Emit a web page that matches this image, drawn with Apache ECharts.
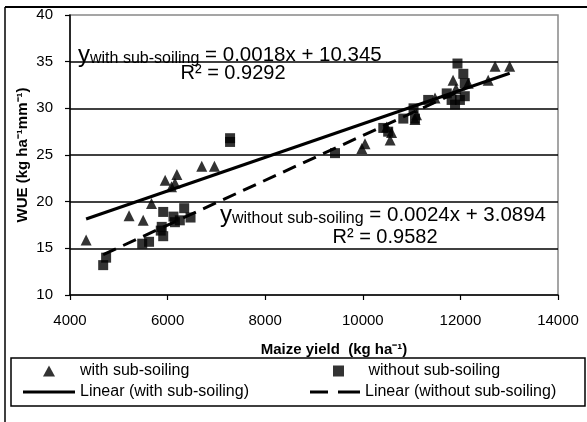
<!DOCTYPE html>
<html><head><meta charset="utf-8">
<script src="https://cdn.jsdelivr.net/npm/echarts@6/dist/echarts.min.js"></script>
<style>html,body{margin:0;padding:0;background:#fff}#c{width:587px;height:422px}</style>
</head><body><div id="c"></div>
<script>
// Data (x = maize yield kg/ha, y = WUE)
const withX = [4330,5210,5500,5670,5950,6190,6080,6150,6700,6960,9980,10045,10490,10560,10590,11070,11100,11480,11850,11910,12160,12570,12710,13010];
const withY = [15.9,18.5,18.0,19.8,22.3,22.9,21.6,22.0,23.8,23.8,25.7,26.2,28.0,26.6,27.4,28.8,29.3,31.1,33.0,32.1,32.7,33.0,34.5,34.5];
const withoutX = [4680,4740,5480,5620,5860,5910,5880,5910,6120,6150,6250,6340,6470,7280,7280,9430,10420,10520,10830,11070,11040,11340,11720,11820,11890,11990,12090,12090,12060,11940];
const withoutY = [13.2,14.0,15.5,15.7,16.9,16.3,17.3,18.9,18.4,17.8,18.0,19.3,18.3,26.8,26.4,25.2,27.9,27.5,28.9,28.9,30.0,30.9,31.6,30.9,30.4,30.9,31.3,32.7,33.7,34.8];
// Trend line coefficients [slope, intercept, R2]
const fitWith = [0.0018, 10.345, 0.9292];
const fitWithout = [0.0024, 3.0894, 0.9582];
const xTicks = [4000, 14000, 2000];
const yTicks = [10, 40, 5];

const pts = (xs, ys) => xs.map((x, i) => [x, ys[i]]);
const trend = (xs, f) => {
  const a = Math.min(...xs), b = Math.max(...xs);
  return [[a, f[0]*a + f[1]], [b, f[0]*b + f[1]]];
};
const FONT = 'Liberation Sans, Arial, sans-serif';
const chart = echarts.init(document.getElementById('c'), null, {renderer: 'canvas'});
const legendBase = {orient: 'horizontal', padding: 0, itemGap: 0, symbolKeepAspect: true,
  textStyle: {fontFamily: FONT, fontSize: 16, color: '#000'}, selectedMode: false};
const triIcon = 'path://M0,11L6,0L12,11Z';
const sqIcon = 'path://M0,0H11V11H0Z';
const solidIcon = 'path://M0,0H52V3H0Z';
const dashIcon = 'path://M0,0H18V3H0Z M28,0H50V3H28Z';
chart.setOption({
  animation: false,
  backgroundColor: '#fff',
  grid: {left: 70, top: 15, width: 488, height: 280, show: true, borderColor: '#888', borderWidth: 1.5, backgroundColor: 'transparent'},
  xAxis: {type: 'value', min: xTicks[0], max: xTicks[1], interval: xTicks[2],
    axisLine: {show: true, onZero: false, lineStyle: {color: '#000', width: 1.5}},
    axisTick: {show: true, inside: false, length: 5, lineStyle: {color: '#000', width: 1.2}},
    axisLabel: {margin: 18, fontFamily: FONT, fontSize: 15, color: '#000', formatter: v => String(v)},
    splitLine: {show: false},
    name: 'Maize yield  (kg ha\u207B\u00B9)', nameLocation: 'middle', nameGap: 47,
    nameTextStyle: {fontFamily: FONT, fontSize: 15, fontWeight: 'bold', color: '#000', padding: [0,0,0,40]}
  },
  yAxis: {type: 'value', min: yTicks[0], max: yTicks[1], interval: yTicks[2],
    axisLine: {show: true, onZero: false, lineStyle: {color: '#000', width: 1.5}},
    axisTick: {show: true, inside: false, length: 5, lineStyle: {color: '#000', width: 1.2}},
    axisLabel: {margin: 17, fontFamily: FONT, fontSize: 15, color: '#000'},
    splitLine: {show: true, showMinLine: false, showMaxLine: false, lineStyle: {color: '#000', width: 1.5}},
    name: 'WUE (kg ha\u207B\u00B9mm\u207B\u00B9)', nameLocation: 'middle', nameGap: 40, nameMoveOverlap: false,
    nameTextStyle: {fontFamily: FONT, fontSize: 15, fontWeight: 'bold', color: '#000'}
  },
  legend: [
    Object.assign({}, legendBase, {data: [{name: 'with sub-soiling', icon: triIcon}], left: 43, top: 363, itemWidth: 52, itemHeight: 11}),
    Object.assign({}, legendBase, {data: [{name: 'without sub-soiling', icon: sqIcon}], left: 333, top: 363, itemWidth: 50, itemHeight: 11}),
    Object.assign({}, legendBase, {data: [{name: 'Linear (with sub-soiling)', icon: solidIcon}], left: 23, top: 384, itemWidth: 52, itemHeight: 14}),
    Object.assign({}, legendBase, {data: [{name: 'Linear (without sub-soiling)', icon: dashIcon}], left: 310, top: 384, itemWidth: 50, itemHeight: 14})
  ],
  graphic: [
    {type: 'line', shape: {x1: 5, y1: 7, x2: 587, y2: 7}, style: {stroke: '#000', lineWidth: 2}},
    {type: 'line', shape: {x1: 5, y1: 7, x2: 5, y2: 422}, style: {stroke: '#000', lineWidth: 1.5}},
    {type: 'rect', shape: {x: 11, y: 358, width: 574, height: 48}, style: {fill: 'none', stroke: '#000', lineWidth: 1.5}},
    {type: 'text', left: 78, top: 43, style: {
      text: '{y|y}{s|with sub-soiling}{e| = ' + fitWith[0] + 'x + ' + fitWith[1] + '}',
      rich: {y: {fontFamily: FONT, fontSize: 24, fill: '#000'}, s: {fontFamily: FONT, fontSize: 16, fill: '#000', verticalAlign: 'bottom'}, e: {fontFamily: FONT, fontSize: 20.5, fill: '#000'}}}},
    {type: 'text', x: 233, y: 73, style: {text: 'R\u00B2 = ' + fitWith[2], fontFamily: FONT, fontSize: 20, fill: '#000', align: 'center', verticalAlign: 'middle'}},
    {type: 'text', left: 220, top: 203, style: {
      text: '{y|y}{s|without sub-soiling}{e| = ' + fitWithout[0] + 'x + ' + fitWithout[1] + '}',
      rich: {y: {fontFamily: FONT, fontSize: 24, fill: '#000'}, s: {fontFamily: FONT, fontSize: 16, fill: '#000', verticalAlign: 'bottom'}, e: {fontFamily: FONT, fontSize: 20.5, fill: '#000'}}}},
    {type: 'text', x: 385, y: 237, style: {text: 'R\u00B2 = ' + fitWithout[2], fontFamily: FONT, fontSize: 20, fill: '#000', align: 'center', verticalAlign: 'middle'}}
  ],
  series: [
    {name: 'with sub-soiling', type: 'scatter', data: pts(withX, withY), symbol: 'triangle', symbolSize: 11, itemStyle: {color: '#000'}, z: 3},
    {name: 'without sub-soiling', type: 'scatter', data: pts(withoutX, withoutY), symbol: 'rect', symbolSize: 10, itemStyle: {color: '#000'}, z: 3},
    {name: 'Linear (with sub-soiling)', type: 'line', data: trend(withX, fitWith), symbol: 'none', showSymbol: false,
      lineStyle: {color: '#000', width: 3, type: 'solid'}, itemStyle: {color: '#000'}, z: 4},
    {name: 'Linear (without sub-soiling)', type: 'line', data: trend(withoutX, fitWithout), symbol: 'none', showSymbol: false,
      lineStyle: {color: '#000', width: 3, type: [14, 8]}, itemStyle: {color: '#000'}, z: 4}
  ]
});
</script></body></html>
